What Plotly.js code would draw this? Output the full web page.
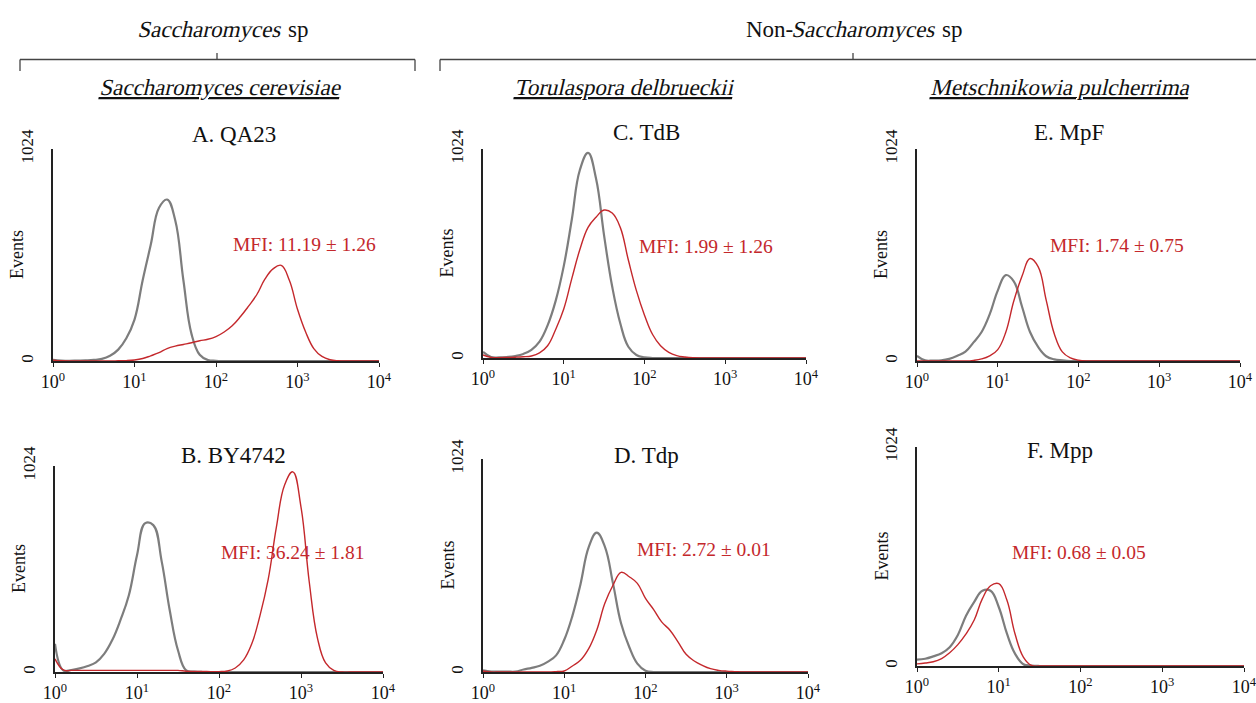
<!DOCTYPE html>
<html>
<head>
<meta charset="utf-8">
<script src="https://cdn.plot.ly/plotly-3.0.1.min.js"></script>
<style>html,body{margin:0;padding:0;background:#fff;}#chart{width:1256px;height:703px;}</style>
</head>
<body>
<div id="chart"></div>
<script>
// Fluorescence channel bins (log-spaced, 10 per decade)
const channel = [1,1.26,1.58,2,2.51,3.16,3.98,5.01,6.31,7.94,
  10,12.6,15.8,20,25.1,31.6,39.8,50.1,63.1,79.4,
  100,126,158,200,251,316,398,501,631,794,
  1000,1259,1585,1995,2512,3162,3981,5012,6310,7943,10000];

// Panel labels
const panelTitles = ["A. QA23","B. BY4742","C. TdB","D. Tdp","E. MpF","F. Mpp"];
const mfiLabels = ["MFI: 11.19 ± 1.26","MFI: 36.24 ± 1.81","MFI: 1.99 ± 1.26","MFI: 2.72 ± 0.01","MFI: 1.74 ± 0.75","MFI: 0.68 ± 0.05"];
const xTickVals = [1,10,100,1000,10000];
const xTickText = ["10<sup>0</sup>","10<sup>1</sup>","10<sup>2</sup>","10<sup>3</sup>","10<sup>4</sup>"];
const yTickVals = [0,1024];
const yTickText = ["0","1024"];
// Group header texts
const genusName = "Saccharomyces";
const groupLeft = ["", genusName, " sp"];
const groupRight = ["Non-", genusName, " sp"];
const speciesNames = ["Saccharomyces cerevisiae","Torulaspora delbrueckii","Metschnikowia pulcherrima"];

// Events per bin: control (grey) and stained (red)
const controlA = [5,2,1,2,3,5,10,25,55,110,200,390,560,740,780,680,390,130,30,5,1,0,0,0,0,0,0,0,0,0,0,0,0,0,0,0,0,0,0,0,0];
const stainedA = [4,1,0,0,0,0,0,0,1,2,5,12,25,40,60,72,80,88,98,105,118,140,170,215,265,320,395,445,462,390,250,140,60,22,6,1,0,0,0,0,0];
const controlB = [140,8,10,18,30,48,90,160,260,380,580,740,730,550,306,108,8,2,0,0,0,0,0,0,0,0,0,0,0,0,0,0,0,0,0,0,0,0,0,0,0];
const stainedB = [65,10,8,8,8,8,8,8,8,8,8,8,8,8,8,8,4,3,3,2,2,5,20,60,140,280,460,720,930,995,820,450,170,45,8,0,0,0,0,0,0];
const controlC = [30,5,3,5,10,20,40,80,160,280,450,680,920,1005,880,600,350,170,55,15,3,0,0,0,0,0,0,0,0,0,0,0,0,0,0,0,0,0,0,0,0];
const stainedC = [15,3,2,3,4,6,10,25,60,140,240,390,530,640,690,725,710,640,480,330,210,115,60,28,12,5,1,0,0,0,0,0,0,0,0,0,0,0,0,0,0];
const controlD = [8,2,2,2,2,12,20,30,50,80,155,270,420,600,670,603,426,233,120,40,6,0,0,0,0,0,0,0,0,0,0,0,0,0,0,0,0,0,0,0,0];
const stainedD = [5,0,0,0,0,0,0,0,0,2,5,29,56,112,201,330,417,479,458,426,354,300,241,201,145,85,53,32,16,8,4,2,0,0,0,0,0,0,0,0,0];
const controlE = [25,3,2,3,10,25,45,90,140,225,340,415,385,262,140,68,23,8,3,0,0,0,0,0,0,0,0,0,0,0,0,0,0,0,0,0,0,0,0,0,0];
const stainedE = [0,0,0,0,0,0,0,3,10,25,55,140,290,410,495,456,294,132,44,15,4,0,0,0,0,0,0,0,0,0,0,0,0,0,0,0,0,0,0,0,0];
const controlF = [30,34,45,60,88,145,235,300,352,352,276,151,58,8,2,0,0,0,0,0,0,0,0,0,0,0,0,0,0,0,0,0,0,0,0,0,0,0,0,0,0];
const stainedF = [10,14,20,35,62,100,150,215,315,375,385,307,151,42,3,0,0,0,0,0,0,0,0,0,0,0,0,0,0,0,0,0,0,0,0,0,0,0,0,0,0];

const controls = [controlA,controlB,controlC,controlD,controlE,controlF];
const stains = [stainedA,stainedB,stainedC,stainedD,stainedE,stainedF];

const W = 1256, H = 703;
const px = v => v / W;
const py = v => 1 - v / H;

// plot areas in pixels: [left, right, top, bottom]
const boxes = [
  [53,379,149,361],   // A
  [55,383,466,672],   // B
  [483,806,149,358],  // C
  [483,808,459,672],  // D
  [917,1240,149,361], // E
  [917,1244,447,666]  // F
];
// annotation pixel positions
const titlePos = [[234,135],[234,455],[646,132],[646,455],[1069,132],[1060,450]];
const mfiPos = [[304,244],[292,552],[706,246],[704,549],[1117,245],[1079,552]];
const groupPos = [[223,30],[853,30]];
const speciesPos = [[222,88],[625,88],[1061,88]];

const GREY = "#7d7d7d", RED = "#c4282c", AXIS = "#222222";
const FAM = "Liberation Serif";
const FONT = "'Liberation Serif', 'Times New Roman', serif";
const HEAD = 23;

// text width measurement (to place italic and upright parts side by side)
const cnv = document.createElement("canvas").getContext("2d");
const tw = (s, size) => { cnv.font = size + "px '" + FAM + "'"; return cnv.measureText(s).width; };

const traces = [];
const layout = {
  width: W, height: H,
  margin: {l:0,r:0,t:0,b:0},
  paper_bgcolor: "#ffffff", plot_bgcolor: "rgba(0,0,0,0)",
  showlegend: false,
  font: {family: FONT, color: "#111"},
  annotations: [], shapes: []
};
const italicIdx = [];
function addText(text, x, y, size, color, anchor, italic, angle) {
  if (italic) italicIdx.push(layout.annotations.length);
  const a = {xref: "paper", yref: "paper", x: px(x), y: py(y), xanchor: anchor || "center", yanchor: "middle",
    showarrow: false, text: text, borderpad: 0, font: {family: FONT, size: size, color: color || "#111"}};
  if (angle) a.textangle = angle;
  layout.annotations.push(a);
}

boxes.forEach((b, i) => {
  const n = i === 0 ? "" : String(i + 1);
  const xa = "x" + n, ya = "y" + n;
  traces.push({x: channel, y: controls[i], xaxis: xa, yaxis: ya, type: "scatter", mode: "lines",
    line: {color: GREY, width: 2.2, shape: "spline", smoothing: 1.2}, name: "Control", hoverinfo: "x+y"});
  traces.push({x: channel, y: stains[i], xaxis: xa, yaxis: ya, type: "scatter", mode: "lines",
    line: {color: RED, width: 1.4, shape: "spline", smoothing: 1.2}, name: "Stained", hoverinfo: "x+y"});
  layout["xaxis" + n] = {
    domain: [px(b[0]), px(b[1])], anchor: ya, type: "log", range: [0, 4],
    tickvals: xTickVals, ticktext: xTickText, ticks: "outside", ticklen: 4, tickwidth: 1, tickcolor: AXIS,
    ticklabeloverflow: "allow",
    showline: true, linecolor: AXIS, linewidth: 1.6, showgrid: false, zeroline: false,
    layer: "above traces", tickfont: {family: FONT, size: 18, color: "#111"}, fixedrange: true
  };
  layout["yaxis" + n] = {
    domain: [py(b[3]), py(b[2])], anchor: xa, range: [0, 1024],
    tickvals: yTickVals, ticktext: yTickText, tickangle: -90, ticks: "", ticklabelstandoff: 12,
    showline: true, linecolor: AXIS, linewidth: 1.6, showgrid: false, zeroline: false,
    tickfont: {family: FONT, size: 17, color: "#111"}, fixedrange: true
  };
  addText(panelTitles[i], titlePos[i][0], titlePos[i][1], 23);
  addText(mfiLabels[i], mfiPos[i][0], mfiPos[i][1], 19.5, RED);
  addText("Events", b[0] - 36, (b[2] + b[3]) / 2, 18, "#111", "center", false, -90);
});

// group headers: [upright prefix, italic genus, upright suffix]
[groupLeft, groupRight].forEach((parts, g) => {
  const widths = parts.map(s => tw(s, HEAD));
  let x = groupPos[g][0] - (widths[0] + widths[1] + widths[2]) / 2;
  if (parts[0]) addText(parts[0], x, groupPos[g][1], HEAD, "#111", "left", false);
  x += widths[0];
  addText(parts[1], x, groupPos[g][1], HEAD, "#111", "left", true);
  x += widths[1] + tw(" ", HEAD);
  addText(parts[2].trim(), x, groupPos[g][1], HEAD, "#111", "left", false);
});
speciesNames.forEach((s, k) => addText("<u>" + s + "</u>", speciesPos[k][0], speciesPos[k][1], HEAD, "#111", "center", true));

// brackets
const seg = (x0, y0, x1, y1) => ({type: "line", xref: "paper", yref: "paper",
  x0: px(x0), y0: py(y0), x1: px(x1), y1: py(y1), line: {color: "#444", width: 1.3}});
layout.shapes.push(seg(20, 59.5, 415, 59.5), seg(20, 59.5, 20, 71), seg(415, 59.5, 415, 71), seg(217, 53, 217, 59.5));
layout.shapes.push(seg(440, 59.5, 1256, 59.5), seg(440, 59.5, 440, 71), seg(853, 53, 853, 59.5));

Plotly.newPlot("chart", traces, layout, {displayModeBar: false, staticPlot: true}).then(gd => {
  // no serif italic face is installed: slant the upright serif glyphs instead
  italicIdx.forEach(k => {
    gd.querySelectorAll('.annotation[data-index="' + k + '"] text.annotation-text').forEach(t => {
      t.style.transformBox = "fill-box";
      t.style.transformOrigin = "50% 50%";
      t.style.transform = "skewX(-13deg)";
    });
  });
});
</script>
</body>
</html>
